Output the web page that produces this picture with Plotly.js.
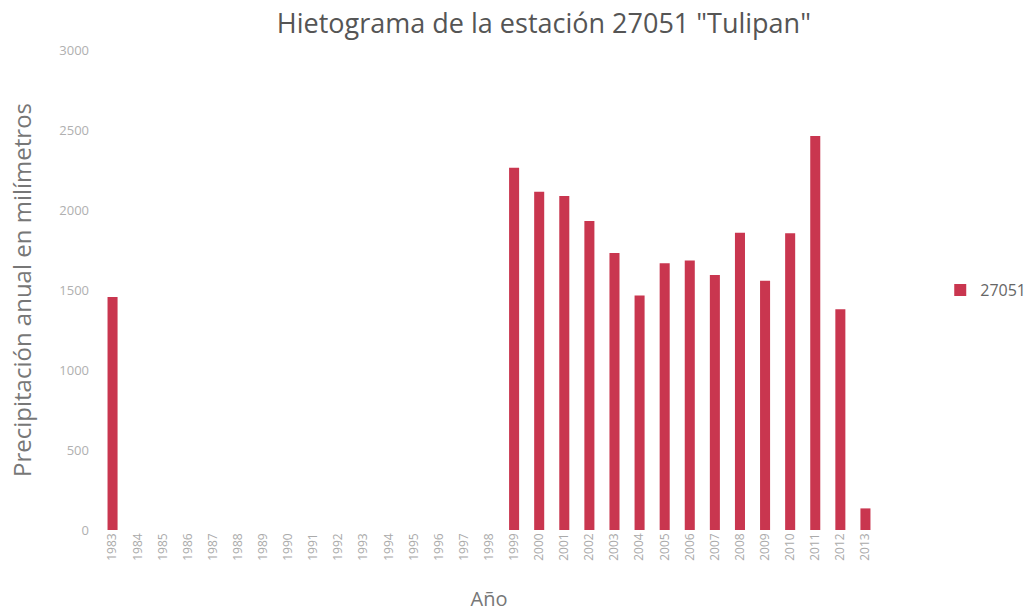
<!DOCTYPE html>
<html>
<head>
<meta charset="utf-8">
<script src="https://cdn.plot.ly/plotly-3.0.1.min.js"></script>
<style>html,body{margin:0;padding:0;background:#fff;}#chart{width:1036px;height:612px;}</style>
</head>
<body>
<div id="chart"></div>
<script>
const years = ['1983','1984','1985','1986','1987','1988','1989','1990','1991','1992','1993','1994','1995','1996','1997','1998','1999','2000','2001','2002','2003','2004','2005','2006','2007','2008','2009','2010','2011','2012','2013'];
const precip = [1456,null,null,null,null,null,null,null,null,null,null,null,null,null,null,null,2264,2114,2087,1931,1731,1465,1667,1685,1594,1858,1558,1854,2462,1379,135];
const seriesName = '27051';
const yTicks = [0,500,1000,1500,2000,2500,3000];

const trace = {
  type: 'bar', x: years, y: precip, name: seriesName,
  marker: {color: '#c9364f'}, showlegend: true
};
const layout = {
  width: 1036, height: 612,
  margin: {l: 100, r: 158, t: 50, b: 82, autoexpand: false},
  paper_bgcolor: '#fff', plot_bgcolor: '#fff',
  font: {family: 'Open Sans, Noto Sans, sans-serif', color: '#777'},
  title: {text: 'Hietograma de la estación 27051 "Tulipan"', x: 0.525, xanchor: 'center', y: 0.962, yanchor: 'middle',
          font: {size: 27, color: '#555', family: 'Open Sans, sans-serif'}},
  bargap: 0.6,
  xaxis: {type: 'category', tickangle: -90, showgrid: false, showline: false, zeroline: false,
          tickfont: {size: 12, color: '#aaa'}, ticks: '',
          title: {text: 'Año', font: {size: 20, color: '#777'}, standoff: 32}},
  yaxis: {range: [0, 3000], tickvals: yTicks, showgrid: false, showline: false, zeroline: false,
          tickfont: {size: 13, color: '#b0b0b0'}, ticks: '', ticklabelstandoff: 10,
          title: {text: 'Precipitación anual en milímetros', font: {size: 24, color: '#777'}, standoff: 20}},
  legend: {x: 1.08, y: 0.5, xanchor: 'left', yanchor: 'middle', font: {size: 16, color: '#666'}, bgcolor: 'rgba(0,0,0,0)'}
};
Plotly.newPlot('chart', [trace], layout, {displayModeBar: false, staticPlot: true});
</script>
</body>
</html>
